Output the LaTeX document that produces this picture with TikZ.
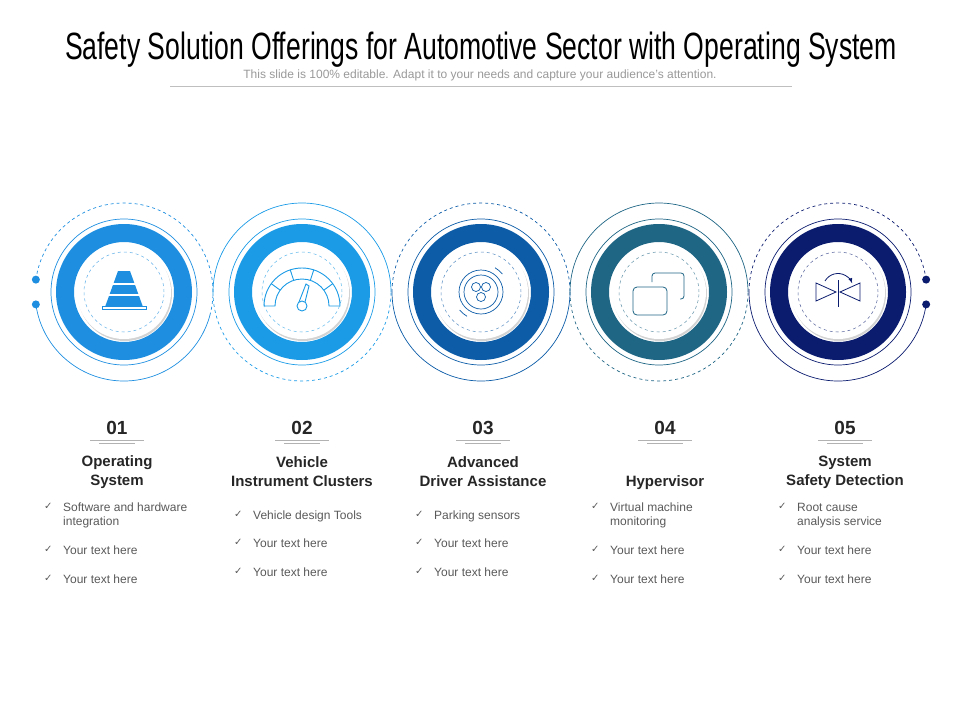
\documentclass[tikz,border=0pt]{standalone}
\usepackage{fontspec}
\setmainfont{Liberation Sans}
\newfontfamily\titlefont[FakeStretch=0.7]{Liberation Sans}
\newfontfamily\symfont{DejaVu Sans}
\usetikzlibrary{positioning, calc, shadows}
\definecolor{c-one}{HTML}{1E8FE0}
\definecolor{c-two}{HTML}{1B9BE6}
\definecolor{c-three}{HTML}{0C5CA8}
\definecolor{c-four}{HTML}{1F6584}
\definecolor{c-five}{HTML}{0B1C6E}
\definecolor{txt-gray}{HTML}{595959}
\tikzset{
  ringfill/.style={fill=#1},
  thinring/.style={draw=#1, line width=0.7pt},
  core/.style={circle, fill=white, minimum size=94pt, inner sep=0pt, drop shadow={opacity=0.35, shadow xshift=1pt, shadow yshift=-2pt}},
  numlabel/.style={font=\bfseries\fontsize{19}{20}\selectfont, text=black!85},
  heading/.style={font=\bfseries\fontsize{15}{19}\selectfont, align=center, text=black!85},
  item/.style={font=\fontsize{12}{14}\selectfont, text=txt-gray, anchor=north west, align=left, inner sep=0pt},
  tick/.style={font=\symfont\fontsize{10}{12}\selectfont, text=txt-gray, anchor=north west, inner sep=0pt},
}
\begin{document}
\begin{tikzpicture}[x=1pt, y=1pt]
\useasboundingbox (0,0) rectangle (960,-720);
% title
\node[font=\titlefont\fontsize{38}{40}\selectfont] (title) at (481,-50) {Safety Solution Offerings for Automotive Sector with Operating System};
\node[font=\fontsize{12}{14}\selectfont, text=black!40] (sub) at (480,-75) {This slide is 100\% editable. Adapt it to your needs and capture your audience's attention.};
\draw[black!25, line width=1pt] (170,-86) -- (792,-86);
% circles
\foreach \i/\cx/\col in {1/124/c-one, 2/302/c-two, 3/481/c-three, 4/659/c-four, 5/838/c-five}{
  \coordinate (c\i) at (\cx,-292);
  \fill[\col, even odd rule] (c\i) circle (68) (c\i) circle (50);
  \draw[thinring=\col] (c\i) circle (73);
  \node[core] (core\i) at (c\i) {};
  \draw[\col!70, dashed, line width=0.5pt] (c\i) circle (40);
}
% outer arcs
\draw[thinring=c-one, dashed] ($(c1)+(172:89)$) arc[start angle=172, end angle=-15, radius=89];
\draw[thinring=c-one] ($(c1)+(188:89)$) arc[start angle=188, end angle=345, radius=89];
\fill[c-one] ($(c1)+(172:89)$) circle (4) ($(c1)+(188:89)$) circle (4);
\draw[thinring=c-two] ($(c2)+(180:89)$) arc[start angle=180, end angle=0, radius=89];
\draw[thinring=c-two, dashed] ($(c2)+(180:89)$) arc[start angle=180, end angle=360, radius=89];
\draw[thinring=c-three, dashed] ($(c3)+(180:89)$) arc[start angle=180, end angle=0, radius=89];
\draw[thinring=c-three] ($(c3)+(180:89)$) arc[start angle=180, end angle=360, radius=89];
\draw[thinring=c-four] ($(c4)+(180:89)$) arc[start angle=180, end angle=0, radius=89];
\draw[thinring=c-four, dashed] ($(c4)+(180:89)$) arc[start angle=180, end angle=360, radius=89];
\draw[thinring=c-five, dashed] ($(c5)+(180:89)$) arc[start angle=180, end angle=8, radius=89];
\draw[thinring=c-five] ($(c5)+(180:89)$) arc[start angle=180, end angle=352, radius=89];
\fill[c-five] ($(c5)+(8:89)$) circle (4) ($(c5)+(-8:89)$) circle (4);
% icon 1: cone
\fill[c-one] ($(c1)+(-6,21)$) -- ++(12,0) -- ++(13,-36) -- ++(-38,0) -- cycle;
\foreach \yy in {9,-2}{\fill[white] ($(c1)+(-16,\yy)$) rectangle ++(32,-2);}
\draw[c-one, fill=white, line width=0.8pt] ($(c1)+(-22,-14)$) rectangle ++(44,-3);
% icon 2: gauge
\begin{scope}[c-two, line width=0.9pt]
\draw ($(c2)+(-38,-14)$) arc[start angle=180, end angle=0, radius=38] -- ++(-11,0) arc[start angle=0, end angle=180, radius=27] -- cycle;
\foreach \a in {36,72,108,144}{\draw ($(c2)+(0,-14)+(\a:27)$) -- ($(c2)+(0,-14)+(\a:38)$);}
\draw ($(c2)+(0,-14)$) circle (5);
\draw ($(c2)+(-3,-10)$) -- ($(c2)+(4,8)$) -- ($(c2)+(7,6)$) -- ($(c2)+(3,-10)$);
\end{scope}
% icon 3: sensors
\begin{scope}[c-three, line width=0.7pt]
\draw (c3) circle (22) (c3) circle (17);
\draw ($(c3)+(-5,5)$) circle (4.5) ($(c3)+(5,5)$) circle (4.5) ($(c3)+(0,-5)$) circle (4.5);
\draw ($(c3)+(40:28)$) arc[start angle=40, end angle=60, radius=28];
\draw ($(c3)+(220:28)$) arc[start angle=220, end angle=240, radius=28];
\end{scope}
% icon 4: windows
\begin{scope}[c-four, line width=0.8pt]
\draw[rounded corners=3] ($(c4)+(-7,10)$) -- ($(c4)+(-7,19)$) -- ($(c4)+(25,19)$) -- ($(c4)+(25,-7)$) -- ($(c4)+(21,-7)$);
\draw[rounded corners=4, fill=white] ($(c4)+(-26,5)$) rectangle ($(c4)+(8,-23)$);
\end{scope}
% icon 5: valve
\begin{scope}[c-five, line width=0.8pt]
\draw ($(c5)+(-22,9)$) -- ($(c5)+(-2,0)$) -- ($(c5)+(-22,-9)$) -- cycle;
\draw ($(c5)+(22,9)$) -- ($(c5)+(2,0)$) -- ($(c5)+(22,-9)$) -- cycle;
\draw ($(c5)+(0,12)$) -- ($(c5)+(0,-15)$);
\draw[-latex] ($(c5)+(-13,11)$) arc[start angle=150, end angle=20, radius=15];
\end{scope}
% text blocks
\foreach \i/\cx/\head in {1/117/Operating\\System, 2/302/Vehicle\\Instrument Clusters, 3/483/Advanced\\Driver Assistance, 4/665/\strut\\Hypervisor, 5/845/System\\Safety Detection}{
  \node[numlabel] (num\i) at (\cx,-428) {0\i};
  \draw[black!30, line width=0.5pt] ($(num\i.south)+(-27,-2)$) -- ++(54,0);
  \draw[black!30, line width=0.5pt] ($(num\i.south)+(-18,-5)$) -- ++(36,0);
  \node[heading] (head\i) at (\cx,-472) {\head};
}
\foreach \i/\tx/\ya/\yb/\yc/\ta in {1/63/503/546/575/{Software and hardware\\integration}, 4/610/503/546/575/{Virtual machine\\monitoring}, 5/797/503/546/575/{Root cause\\analysis service}, 2/253/511/539/568/{Vehicle design Tools}, 3/434/511/539/568/{Parking sensors}}{
  \node[item] (it\i a) at (\tx,-\ya) {\ta};
  \node[item] (it\i b) at (\tx,-\yb) {Your text here};
  \node[item] (it\i c) at (\tx,-\yc) {Your text here};
  \foreach \k/\yy in {a/\ya,b/\yb,c/\yc}{\node[tick] (tk\i\k) at (\tx-19,-\yy) {✓};}
}
\end{tikzpicture}
\end{document}
